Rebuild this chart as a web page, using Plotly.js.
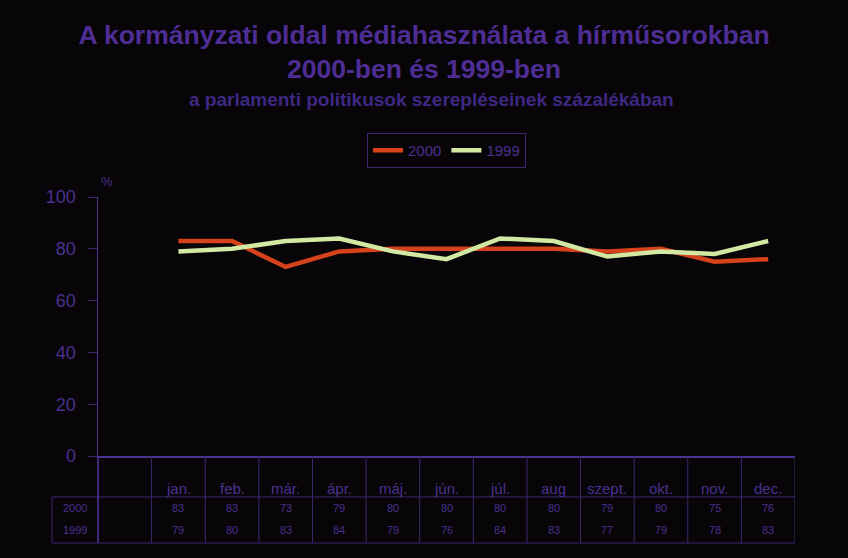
<!DOCTYPE html>
<html>
<head>
<meta charset="utf-8">
<script src="https://cdn.plot.ly/plotly-3.0.1.min.js"></script>
<style>html,body{margin:0;padding:0;background:#070507;}#chart{width:848px;height:558px;}</style>
</head>
<body>
<div id="chart"></div>
<script>
const months = ['jan.','feb.','már.','ápr.','máj.','jún.','júl.','aug','szept.','okt.','nov.','dec.'];
const series2000 = [83,83,73,79,80,80,80,80,79,80,75,76];
const series1999 = [79,80,83,84,79,76,84,83,77,79,78,83];
const seriesNames = ['2000','1999'];
const yTicks = [0,20,40,60,80,100];

const purple = '#4a3190';
const lineCol = '#3b2a72';
const FONT = 'Liberation Sans, Arial, sans-serif';
const xs = months.map((m,i)=>i+1);

const traces = [
  {x: xs, y: series2000, name: seriesNames[0], type:'scatter', mode:'lines',
   line:{color:'#d5421c', width:4.5}},
  {x: xs, y: series1999, name: seriesNames[1], type:'scatter', mode:'lines',
   line:{color:'#d3e8a2', width:4.5}}
];

// table geometry in paper coords
const yMonth = -0.124, yRowLine = -0.158, yRow1 = -0.201, yRow2 = -0.286, yBottom = -0.336;
const xLeftBox = -0.066;

const shapes = [];
for (let k = -1; k <= 12; k++) {
  shapes.push({type:'line', xref:'x', yref:'paper', x0:k+0.5, x1:k+0.5, y0:0, y1:yBottom,
    line:{color:lineCol, width:1}});
}
shapes.push({type:'line', xref:'paper', yref:'paper', x0:xLeftBox, x1:1, y0:yRowLine, y1:yRowLine, line:{color:lineCol,width:1}});
shapes.push({type:'line', xref:'paper', yref:'paper', x0:xLeftBox, x1:1, y0:yBottom, y1:yBottom, line:{color:lineCol,width:1}});
shapes.push({type:'line', xref:'paper', yref:'paper', x0:xLeftBox, x1:xLeftBox, y0:yRowLine, y1:yBottom, line:{color:lineCol,width:1}});
shapes.push({type:'line', xref:'paper', yref:'paper', x0:0, x1:0, y0:0, y1:yBottom, line:{color:'#4a3590',width:1.5}});

function ann(x, y, xref, text, size, color) {
  return {x:x, y:y, xref:xref, yref:'paper', text:text, showarrow:false,
    xanchor:'center', yanchor:'middle', font:{family:FONT, size:size, color:color||purple}};
}
const annotations = [];
months.forEach((m,i)=>{
  annotations.push(ann(xs[i], yMonth, 'x', m, 15));
  annotations.push(ann(xs[i], yRow1, 'x', String(series2000[i]), 11));
  annotations.push(ann(xs[i], yRow2, 'x', String(series1999[i]), 11));
});
annotations.push(ann(-0.033, yRow1, 'paper', seriesNames[0], 11));
annotations.push(ann(-0.033, yRow2, 'paper', seriesNames[1], 11));
annotations.push(ann(0.013, 1.058, 'paper', '%', 13));
annotations.push(ann(0.4785, (456-99)/259, 'paper', '<b>a parlamenti politikusok szerepléseinek százalékában</b>', 19, '#3f2884'));

const layout = {
  width:848, height:558,
  paper_bgcolor:'#070507', plot_bgcolor:'#070507',
  margin:{l:98, r:53, t:197, b:102},
  title:{text:'<b>A kormányzati oldal médiahasználata a hírműsorokban<br>2000-ben és 1999-ben</b>',
    x:0.5, xref:'container', xanchor:'center', y:1-44/558, yref:'container', yanchor:'top',
    font:{family:FONT, size:26.5, color:'#4e2e94'}},
  xaxis:{type:'linear', range:[-0.5,12.5], showticklabels:false, showgrid:false, zeroline:false,
    showline:true, linecolor:'#4a3590', linewidth:1.5, ticks:'', fixedrange:true},
  yaxis:{range:[0,100], tickvals:yTicks, ticktext:yTicks.map(String), showgrid:false, zeroline:false,
    showline:true, linecolor:'#4a3590', linewidth:1.5, ticks:'outside', ticklen:9, tickcolor:lineCol,
    ticklabelstandoff:8,
    tickfont:{family:FONT, size:18, color:purple}},
  showlegend:true,
  legend:{orientation:'h', x:0.5, xanchor:'center', y:1.247, yanchor:'top',
    bgcolor:'rgba(0,0,0,0)', bordercolor:'#3b2a72', borderwidth:1,
    font:{family:FONT, size:15, color:purple}},
  shapes:shapes,
  annotations:annotations
};

Plotly.newPlot('chart', traces, layout, {displayModeBar:false, staticPlot:true});
</script>
</body>
</html>
